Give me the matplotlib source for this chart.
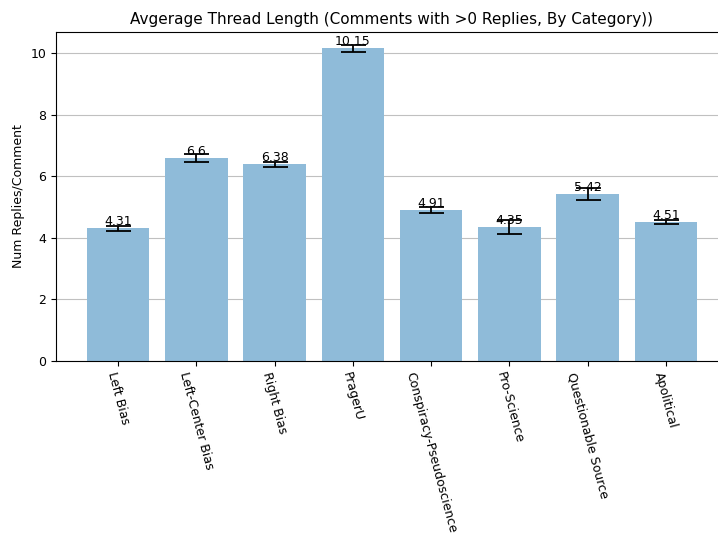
import matplotlib
matplotlib.use("Agg")
import matplotlib.pyplot as plt
import numpy as np

categories = ["Left Bias", "Left-Center Bias", "Right Bias", "PragerU",
              "Conspiracy-Pseudoscience", "Pro-Science", "Questionable Source", "Apolitical"]
values = [4.31, 6.6, 6.38, 10.15, 4.91, 4.35, 5.42, 4.51]
errors = [0.075, 0.135, 0.09, 0.12, 0.09, 0.22, 0.19, 0.07]

fig = plt.figure(figsize=(7.18, 5.39), dpi=100)
ax = fig.add_axes([56/718, 1-361/539, (728-56)/718, (361-32)/539])
x = np.arange(len(categories))
ax.bar(x, values, width=0.8, color="#8fbbd9", yerr=errors,
       capsize=9, error_kw=dict(elinewidth=1.3, capthick=1.3, ecolor="black"))
for xi, v in zip(x, values):
    ax.text(xi, v, str(v), ha="center", va="bottom", fontsize=9)
ax.set_xticks(x)
ax.set_xticklabels(categories, rotation=-75, ha="center", fontsize=9)
ax.tick_params(axis="y", labelsize=9)
ax.set_ylim(0, 10.68)
ax.set_xlim(-0.79, 7.79)
ax.yaxis.grid(True, color="#c0c0c0")
ax.set_axisbelow(True)
ax.set_ylabel("Num Replies/Comment", fontsize=9)
ax.set_title("Avgerage Thread Length (Comments with >0 Replies, By Category))", fontsize=11)
fig.savefig("out.png", dpi=100)
